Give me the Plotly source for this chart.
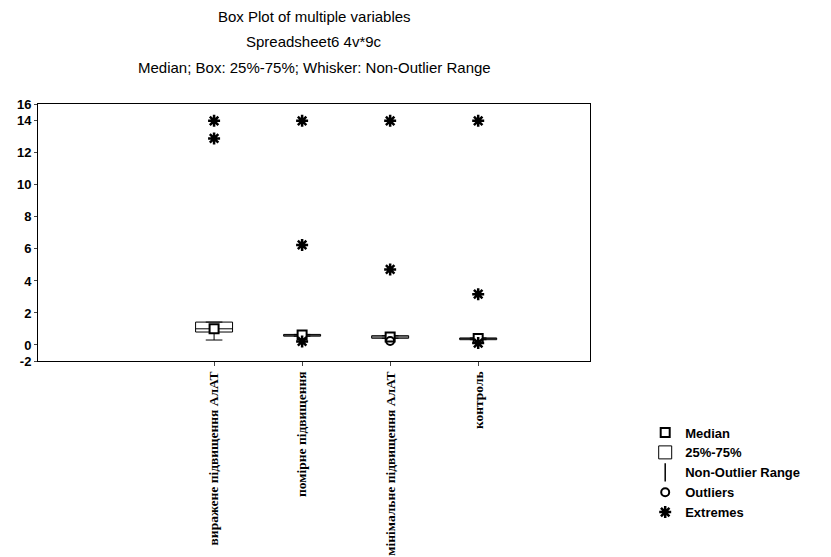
import plotly.graph_objects as go

# ---- data ----
categories = ["виражене підвищення АлАТ", "помірне підвищення",
              "мінімальне підвищення АлАТ", "контроль"]
q1 = [0.81, 0.55, 0.42, 0.33]
median = [1.01, 0.62, 0.50, 0.40]
q3 = [1.43, 0.66, 0.58, 0.44]
whisker_low = [0.31, 0.55, 0.42, 0.33]
whisker_high = [1.43, 0.66, 0.58, 0.44]
outlier_x = ["мінімальне підвищення АлАТ"]
outlier_y = [0.25]
extreme_x = ["виражене підвищення АлАТ", "виражене підвищення АлАТ",
             "помірне підвищення", "помірне підвищення", "помірне підвищення",
             "мінімальне підвищення АлАТ", "мінімальне підвищення АлАТ",
             "контроль", "контроль", "контроль"]
extreme_y = [14.0, 12.9, 14.0, 6.25, 0.22, 14.0, 4.72, 14.0, 3.17, 0.12]
tick_vals = [-1.0, 0, 2, 4, 6, 8, 10, 12, 14, 15.05]
tick_text = ["-2", "0", "2", "4", "6", "8", "10", "12", "14", "16"]
titles = ["Box Plot of multiple variables", "Spreadsheet6 4v*9c",
          "Median; Box: 25%-75%; Whisker: Non-Outlier Range"]

fig = go.Figure()

fig.add_trace(go.Box(
    x=categories, q1=q1, median=median, q3=q3,
    lowerfence=whisker_low, upperfence=whisker_high,
    fillcolor="rgba(0,0,0,0)", line=dict(color="black", width=1),
    whiskerwidth=0.45, width=0.42, boxpoints=False, showlegend=False,
    hoverinfo="skip"))

fig.add_trace(go.Scatter(
    x=categories, y=median, mode="markers", name="Median",
    marker=dict(symbol="square", size=9, color="white",
                line=dict(color="black", width=2))))

fig.add_trace(go.Scatter(
    x=[None], y=[None], mode="markers", name="25%-75%",
    marker=dict(symbol="square-open", size=13, color="black",
                line=dict(width=1))))

fig.add_trace(go.Scatter(
    x=[None], y=[None], mode="markers", name="Non-Outlier Range",
    marker=dict(symbol="line-ns-open", size=13, color="black",
                line=dict(width=1.5))))

fig.add_trace(go.Scatter(
    x=outlier_x, y=outlier_y, mode="markers", name="Outliers",
    marker=dict(symbol="circle-open", size=8, color="black",
                line=dict(width=2))))

fig.add_trace(go.Scatter(
    x=extreme_x, y=extreme_y, mode="markers", name="Extremes",
    marker=dict(symbol="asterisk-open", size=10, color="black",
                line=dict(width=2.5, color="black"))))

for i, t in enumerate(titles):
    fig.add_annotation(text=t, xref="paper", yref="paper", x=0.5,
                       y=1 + (87 - 25 * i) / 257, yanchor="middle",
                       showarrow=False,
                       font=dict(family="Arial, Liberation Sans", size=15,
                                 color="black"))

# the page body adds an 8px offset, so the figure is 8px smaller each way
fig.update_layout(
    width=823, height=549,
    margin=dict(l=30, r=241, t=96, b=196),
    paper_bgcolor="white", plot_bgcolor="white",
    font=dict(family="Arial, Liberation Sans", color="black"),
    legend=dict(x=1.1, y=-0.22, xanchor="left", yanchor="top",
                font=dict(family="Arial, Liberation Sans", size=13,
                          color="black", weight="bold"),
                tracegroupgap=0, itemwidth=30, bgcolor="rgba(0,0,0,0)"),
)
fig.update_xaxes(
    type="category", range=[-2, 4.27], showgrid=False, showline=True,
    linecolor="black", linewidth=1, mirror=True, ticks="outside",
    ticklen=4, tickangle=-90, automargin=False,
    tickfont=dict(family="Liberation Serif, Times New Roman", size=13.5,
                  color="black", weight="bold"))
fig.update_yaxes(
    range=[-1.0, 15.05], tickvals=tick_vals, ticktext=tick_text,
    showgrid=False, zeroline=False, showline=True, linecolor="black",
    linewidth=1, mirror=True, ticks="outside", ticklen=3, automargin=False,
    tickfont=dict(family="Arial, Liberation Sans", size=13, color="black",
                  weight="bold"))

fig.write_html("out.html")
